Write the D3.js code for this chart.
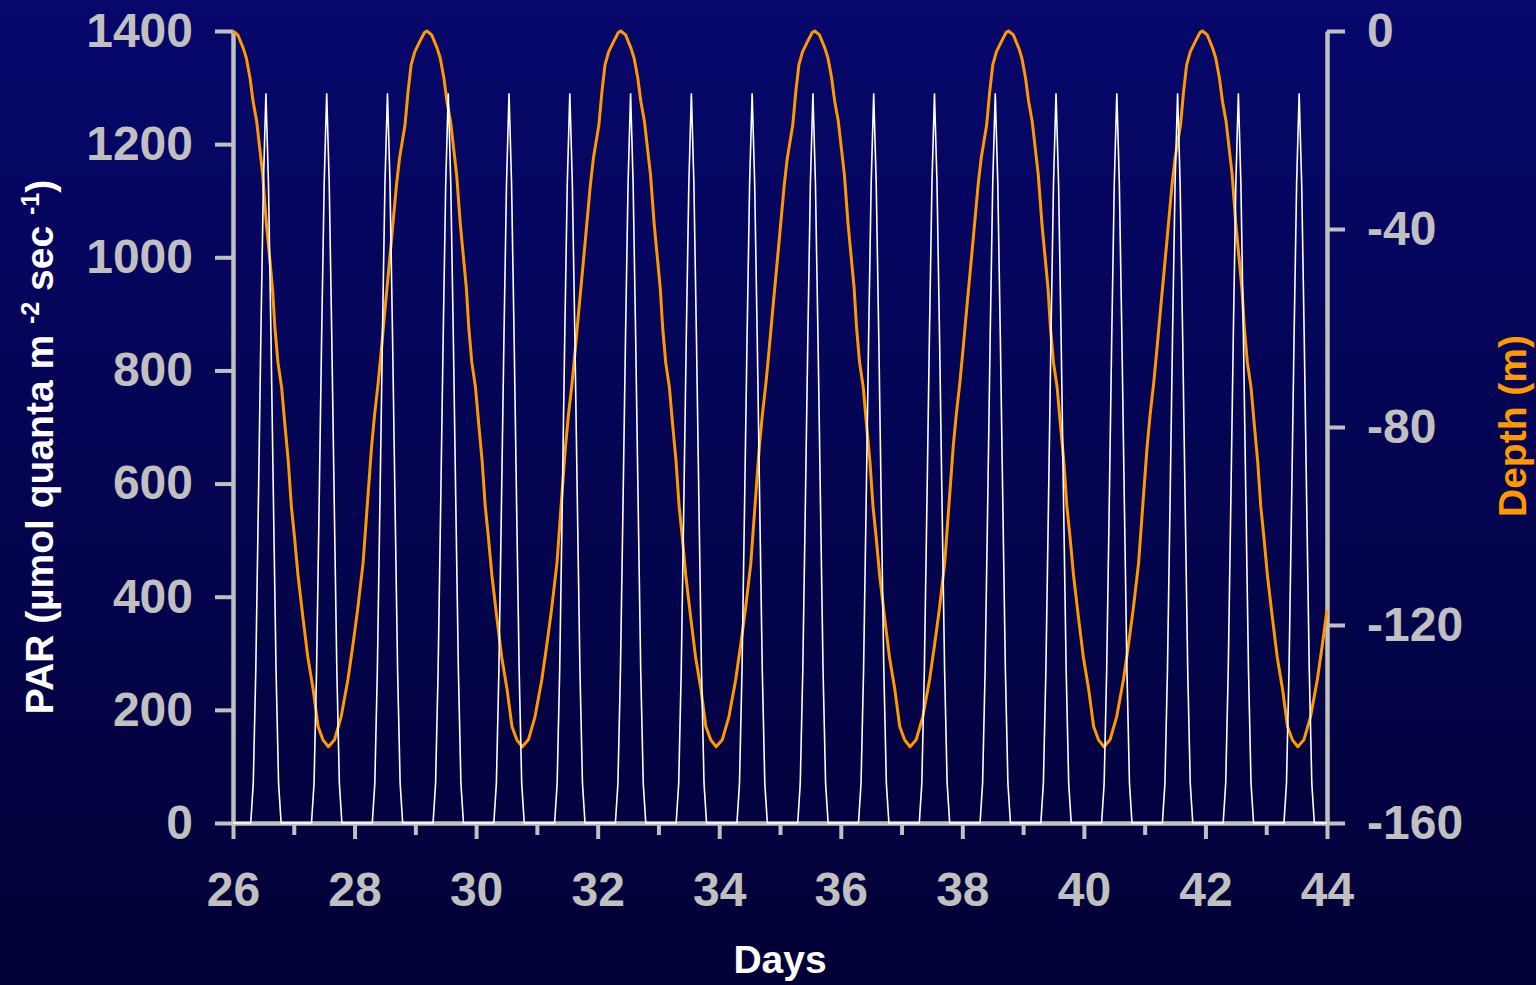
<!DOCTYPE html>
<html>
<head>
<meta charset="utf-8">
<script src="https://cdn.jsdelivr.net/npm/d3@7"></script>
<style>
  html, body { margin: 0; padding: 0; background: #02023a; }
  svg { display: block; }
  text { font-family: "Liberation Sans", Arial, sans-serif; font-weight: bold; }
</style>
</head>
<body>
<svg id="chart" width="1536" height="985"></svg>
<script>
// ---- Data -------------------------------------------------------------
// Days on which the PAR record runs (one daylight pulse each day)
const parDays = [26, 27, 28, 29, 30, 31, 32, 33, 34, 35, 36, 37, 38, 39, 40, 41, 42, 43];
// Hourly PAR over a day (µmol quanta m-2 s-1), hours 0..23
const parHourly = [0, 0, 0, 0, 0, 0, 0, 0, 70, 270, 560, 860, 1130, 1290, 1130, 860, 560, 270, 70, 0, 0, 0, 0, 0];

// Depth excursions of the tracked particle: start day of each surface-to-depth cycle
const depthCycleStarts = [26, 29.19, 32.38, 35.57, 38.76, 41.95];
// Within-cycle time offsets (days) and depths (m)
const depthOffsets = [0.00, 0.08, 0.17, 0.22, 0.28, 0.33, 0.39, 0.44, 0.49, 0.55, 0.60, 0.65, 0.69, 0.74, 0.80, 0.85, 0.91, 0.96, 1.01, 1.07, 1.15, 1.23, 1.32, 1.40, 1.48, 1.57,
                      1.67, 1.78, 1.89, 1.97, 2.05, 2.14, 2.22, 2.28, 2.33, 2.39, 2.44, 2.50, 2.60, 2.69, 2.74, 2.83, 2.88, 2.93, 2.99, 3.07, 3.15];
const depthValues  = [0, -0.8, -3.5, -5.5, -9.5, -14.2, -18.3, -23.7, -29.1, -39, -45.5, -52, -60, -67, -72, -79, -87, -96, -102, -110, -118.4, -126.4, -133.1, -140.5, -143.2, -144.6,
                      -143.2, -138.5, -131.1, -124.3, -117, -107.5, -94, -84, -77.5, -71, -64.5, -56.4, -43.2, -31.1, -25.7, -19, -12.3, -6.9, -4.2, -2.2, -0.3];

// Axis ticks
const dayMajorTicks = [26, 28, 30, 32, 34, 36, 38, 40, 42, 44];
const dayMinorTicks = [27, 29, 31, 33, 35, 37, 39, 41, 43];
const parTicks = [0, 200, 400, 600, 800, 1000, 1200, 1400];
const depthTicks = [0, -40, -80, -120, -160];

// ---- Series assembly ---------------------------------------------------
const parSeries = [];
parDays.forEach(d => parHourly.forEach((v, h) => parSeries.push({ t: d + h / 24, v })));
parSeries.push({ t: 44, v: 0 });

const depthSeries = [];
depthCycleStarts.forEach(s => depthOffsets.forEach((o, i) => {
  const t = s + o;
  if (t <= 44 + 1e-6) depthSeries.push({ t: Math.min(t, 44), v: depthValues[i] });
}));

// ---- Layout ------------------------------------------------------------
const svg = d3.select("#chart");
const W = 1536, H = 985;
const x = d3.scaleLinear().domain([26, 44]).range([233, 1327]);
const yL = d3.scaleLinear().domain([0, 1400]).range([823, 31]);
const yR = d3.scaleLinear().domain([-160, 0]).range([823, 31]);

const axisGrey = "#c0c0c0";
const orange = "#ff9900";
const plainNumber = d => String(d);   // keeps an ASCII hyphen for negatives

// Background gradient
const defs = svg.append("defs");
const grad = defs.append("linearGradient").attr("id", "bg").attr("x1", 0).attr("y1", 0).attr("x2", 0).attr("y2", 1);
grad.append("stop").attr("offset", "0%").attr("stop-color", "#07076c");
grad.append("stop").attr("offset", "100%").attr("stop-color", "#010136");
svg.append("rect").attr("width", W).attr("height", H).attr("fill", "url(#bg)");

function styleAxis(g, labelColor) {
  g.select(".domain").attr("stroke", axisGrey).attr("stroke-width", 4.5);
  g.selectAll(".tick line").attr("stroke", axisGrey).attr("stroke-width", 4);
  g.selectAll(".tick text")
    .attr("fill", labelColor)
    .style("font-size", "48px")
    .style("font-family", "'Liberation Sans', Arial, sans-serif")
    .style("font-weight", "bold");
}

// Minor day ticks
svg.append("g")
  .attr("transform", "translate(0,823)")
  .call(d3.axisBottom(x).tickValues(dayMinorTicks).tickSize(12).tickSizeOuter(0).tickFormat(""))
  .call(g => { styleAxis(g, axisGrey); g.select(".domain").remove(); });

// Bottom axis (days)
svg.append("g")
  .attr("transform", "translate(0,823)")
  .call(d3.axisBottom(x).tickValues(dayMajorTicks).tickSize(16).tickSizeOuter(0).tickPadding(33).tickFormat(plainNumber))
  .call(g => styleAxis(g, axisGrey));

// Left axis (PAR)
svg.append("g")
  .attr("transform", "translate(233,0)")
  .call(d3.axisLeft(yL).tickValues(parTicks).tickSize(18).tickSizeOuter(0).tickPadding(22).tickFormat(plainNumber))
  .call(g => styleAxis(g, axisGrey));

// Right axis (depth)
svg.append("g")
  .attr("transform", "translate(1327,0)")
  .call(d3.axisRight(yR).tickValues(depthTicks).tickSize(18).tickSizeOuter(0).tickPadding(22).tickFormat(plainNumber))
  .call(g => styleAxis(g, axisGrey));

// Depth trace
svg.append("path")
  .datum(depthSeries)
  .attr("fill", "none")
  .attr("stroke", orange)
  .attr("stroke-width", 3)
  .attr("stroke-linejoin", "round")
  .attr("d", d3.line().x(d => x(d.t)).y(d => yR(d.v)));

// PAR trace
svg.append("path")
  .datum(parSeries)
  .attr("fill", "none")
  .attr("stroke", "#ffffff")
  .attr("stroke-width", 1.6)
  .attr("stroke-linejoin", "miter")
  .attr("d", d3.line().x(d => x(d.t)).y(d => yL(d.v)));

// Axis titles
svg.append("text")
  .attr("x", 780).attr("y", 973)
  .attr("text-anchor", "middle")
  .attr("fill", "#ffffff")
  .style("font-size", "39px")
  .text("Days");

const parTitle = svg.append("text")
  .attr("transform", "translate(53,447) rotate(-90)")
  .attr("text-anchor", "middle")
  .attr("fill", "#ffffff")
  .style("font-size", "39px");
parTitle.append("tspan").text("PAR (µmol quanta m ");
parTitle.append("tspan").attr("dy", -14).style("font-size", "25px").text("-2");
parTitle.append("tspan").attr("dy", 14).text(" sec ");
parTitle.append("tspan").attr("dy", -14).style("font-size", "25px").text("-1");
parTitle.append("tspan").attr("dy", 14).text(")");

svg.append("text")
  .attr("transform", "translate(1526,426) rotate(-90)")
  .attr("text-anchor", "middle")
  .attr("fill", orange)
  .style("font-size", "39px")
  .text("Depth (m)");
</script>
</body>
</html>
